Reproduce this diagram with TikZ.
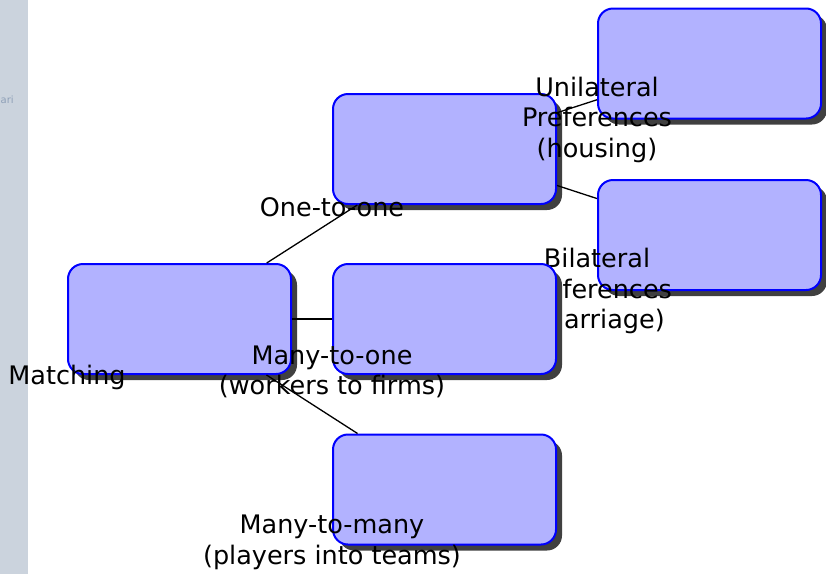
\documentclass[tikz,border=0pt]{standalone}
\usepackage{fontspec}
\setmainfont{DejaVu Sans}
\usetikzlibrary{shadows}
\definecolor{sidebar}{HTML}{CBD3DD}
\definecolor{sidetext}{HTML}{8FA0B8}
\definecolor{boxfill}{HTML}{B2B2FF}
\definecolor{boxshadow}{HTML}{404040}
\tikzset{
  box/.style={draw=blue, fill=boxfill, line width=2pt, rounded corners=15pt,
    minimum width=223pt, minimum height=110pt, inner sep=0pt,
    drop shadow={shadow xshift=6pt, shadow yshift=-6pt, fill=boxshadow, opacity=1}},
  lbl/.style={align=center, font=\fontsize{25.5}{30.5}\selectfont, inner sep=0pt, text=black},
  conn/.style={draw=black, line width=1.3pt}
}
\begin{document}
\begin{tikzpicture}[x=1pt,y=-1pt]
\useasboundingbox (0,0) rectangle (826,574);
\fill[sidebar] (0,0) rectangle (28,574);
\node[text=sidetext, font=\fontsize{10}{11}\selectfont, anchor=west, inner sep=0pt] (side) at (0.5,100) {ari};

\node[box] (m) at (179.5,319) {};
\node[lbl] (ml) at ([yshift=-2pt]m.south west) {Matching};

\node[box] (o) at (444.5,149) {};
\node[lbl] (ol) at ([yshift=-2pt]o.south west) {One-to-one};

\node[box] (u) at (709.5,63.5) {};
\node[lbl] (ul) at (u.south west) {Unilateral\\Preferences\\(housing)};

\node[box] (b) at (709.5,235) {};
\node[lbl] (bl) at (b.south west) {Bilateral\\Preferences\\(marriage)};

\node[box] (mo) at (444.5,319) {};
\node[lbl] (mol) at ([yshift=3pt]mo.south west) {Many-to-one\\(workers to firms)};

\node[box] (mm) at (444.5,489.5) {};
\node[lbl] (mml) at ([yshift=3pt]mm.south west) {Many-to-many\\(players into teams)};

\draw[conn] (m) -- (o);
\draw[conn] (m) -- (mo);
\draw[conn] (m) -- (mm);
\draw[conn] (o) -- (u);
\draw[conn] (o) -- (b);
\end{tikzpicture}
\end{document}
